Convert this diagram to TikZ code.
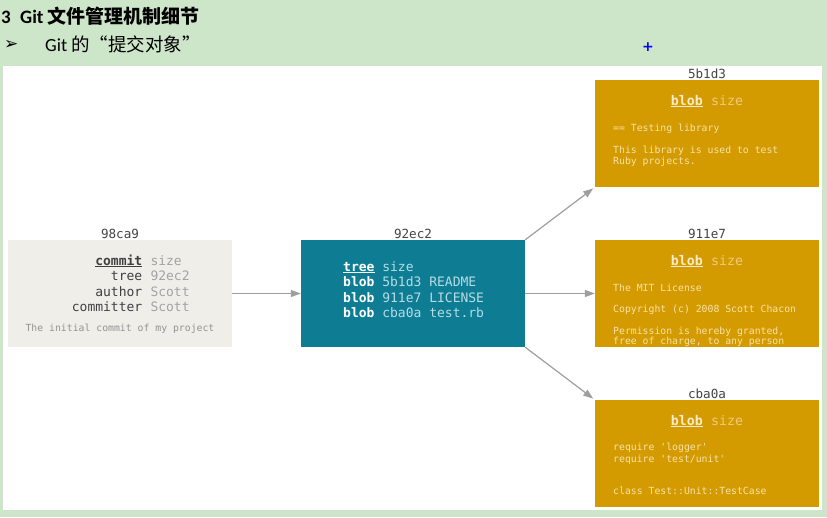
\documentclass[tikz,border=0pt]{standalone}
\usepackage{fontspec}
\setmonofont{DejaVu Sans Mono}
\newfontfamily\cjk{Noto Sans CJK SC}
\newfontfamily\latin{Carlito}
\newfontfamily\symfont{DejaVu Sans}
\usetikzlibrary{arrows.meta}

\definecolor{slidebg}{HTML}{CDE5C9}
\definecolor{commitgray}{HTML}{EFEEE9}
\definecolor{treeteal}{HTML}{0E7D94}
\definecolor{blobgold}{HTML}{D49B00}
\definecolor{hashgray}{HTML}{444444}
\definecolor{keygray}{HTML}{404040}
\definecolor{valgray}{HTML}{A3A3A3}
\definecolor{treeval}{HTML}{B5DCE4}
\definecolor{blobkey}{HTML}{F6EBCB}
\definecolor{blobval}{HTML}{EDCB7A}
\definecolor{blobtext}{HTML}{F7E2A8}
\definecolor{linkgray}{HTML}{9E9E9E}

\begin{document}
\begin{tikzpicture}[
    x=1pt, y=-1pt,
    objbox/.style={
        minimum width=224pt,
        minimum height=107pt,
        inner sep=0pt
    },
    commitbox/.style={objbox, fill=commitgray},
    treebox/.style={objbox, fill=treeteal},
    blobbox/.style={objbox, fill=blobgold},
    hashlabel/.style={font=\ttfamily\fontsize{12.6}{14}\selectfont, text=hashgray, anchor=base, inner sep=0pt},
    keytext/.style={font=\ttfamily\fontsize{13}{15.5}\selectfont, anchor=base east, inner sep=0pt, text=keygray},
    valtext/.style={font=\ttfamily\fontsize{13}{15.5}\selectfont, anchor=base west, inner sep=0pt, text=valgray},
    treeline/.style={font=\ttfamily\fontsize{13}{15.5}\selectfont, anchor=base west, inner sep=0pt, text=treeval},
    blobhead/.style={font=\ttfamily\fontsize{13.3}{15.5}\selectfont, anchor=base, inner sep=0pt, text=blobval},
    smalltext/.style={font=\ttfamily\fontsize{9.8}{11}\selectfont, anchor=base west, inner sep=0pt, text=blobtext},
    link/.style={draw=linkgray, line width=1.2pt, -{Triangle[length=10pt,width=7pt]}}
]

\useasboundingbox (0,0) rectangle (827,517);
\fill[slidebg] (0,0) rectangle (827,517);
\fill[white] (3,66) rectangle (822,510);

% Slide heading
\node[anchor=base west, inner sep=0pt, font=\latin\bfseries\fontsize{19}{20}\selectfont] (secnum) at (1,23) {3};
\node[anchor=base west, inner sep=0pt, font=\latin\bfseries\fontsize{19}{20}\selectfont] (title) at (20,23) {Git {\cjk\bfseries 文件管理机制细节}};
\node[anchor=base west, inner sep=0pt, font=\symfont\fontsize{17}{18}\selectfont] (bullet) at (4,49.5) {➢};
\node[anchor=base west, inner sep=0pt, font=\latin\fontsize{18.5}{20}\selectfont] (subtitle) at (45,51) {Git {\cjk 的“提交对象”}};
\node[text=blue, inner sep=0pt, font=\symfont\bfseries\fontsize{14}{16}\selectfont] (cursor) at (648,47) {+};

% Objects
\node[commitbox] (c98ca9) at (120,293.5) {};
\node[treebox] (t92ec2) at (413,293.5) {};
\node[blobbox] (b5b1d3) at (707,133.5) {};
\node[blobbox] (b911e7) at (707,293.5) {};
\node[blobbox] (bcba0a) at (707,453.5) {};

% Hash labels
\node[hashlabel] (h98ca9) at (120,238.5) {98ca9};
\node[hashlabel] (h92ec2) at (413,238.5) {92ec2};
\node[hashlabel] (h5b1d3) at (707,78.5) {5b1d3};
\node[hashlabel] (h911e7) at (707,238.5) {911e7};
\node[hashlabel] (hcba0a) at (707,398.5) {cba0a};

% Commit contents
\node[keytext] (kcommit) at (142.5,265) {\textbf{\underline{commit}}};
\node[valtext] (vcommit) at (150.3,265) {size};
\node[keytext] (ktree) at (142.5,280.5) {tree};
\node[valtext] (vtree) at (150.3,280.5) {92ec2};
\node[keytext] (kauthor) at (142.5,296) {author};
\node[valtext] (vauthor) at (150.3,296) {Scott};
\node[keytext] (kcommitter) at (142.5,311.5) {committer};
\node[valtext] (vcommitter) at (150.3,311.5) {Scott};
\node[smalltext, text=valgray!90!black, anchor=base] (msg) at (120,331) {The initial commit of my project};

% Tree contents
\node[treeline] (ltree) at (343,271) {\textcolor{white}{\textbf{\underline{tree}}} size};
\node[treeline] (lreadme) at (343,286.5) {\textcolor{white}{\textbf{blob}} 5b1d3 README};
\node[treeline] (llicense) at (343,302) {\textcolor{white}{\textbf{blob}} 911e7 LICENSE};
\node[treeline] (ltest) at (343,317.5) {\textcolor{white}{\textbf{blob}} cba0a test.rb};

% Blob contents
\node[blobhead] (hd5b1d3) at (707,105) {\textcolor{blobkey}{\textbf{\underline{blob}}} size};
\node[smalltext] (r1) at (613,131) {== Testing library};
\node[smalltext] (r2) at (613,153) {This library is used to test};
\node[smalltext] (r3) at (613,164) {Ruby projects.};

\node[blobhead] (hd911e7) at (707,265) {\textcolor{blobkey}{\textbf{\underline{blob}}} size};
\begin{scope}
\clip (b911e7.north west) rectangle (b911e7.south east);
\node[smalltext] (m1) at (613,291) {The MIT License};
\node[smalltext] (m2) at (613,312) {Copyright (c) 2008 Scott Chacon};
\node[smalltext] (m3) at (613,334) {Permission is hereby granted,};
\node[smalltext] (m4) at (613,344.5) {free of charge, to any person};
\end{scope}

\node[blobhead] (hdcba0a) at (707,425) {\textcolor{blobkey}{\textbf{\underline{blob}}} size};
\node[smalltext] (t1) at (613,450) {require 'logger'};
\node[smalltext] (t2) at (613,462) {require 'test/unit'};
\node[smalltext] (t3) at (613,494) {class Test::Unit::TestCase};

% Links
\draw[link] (c98ca9.east) -- (t92ec2.west);
\draw[link, shorten >=2pt] (t92ec2.north east) -- (b5b1d3.south west);
\draw[link] (t92ec2.east) -- (b911e7.west);
\draw[link, shorten >=2pt] (t92ec2.south east) -- (bcba0a.north west);

\end{tikzpicture}
\end{document}
